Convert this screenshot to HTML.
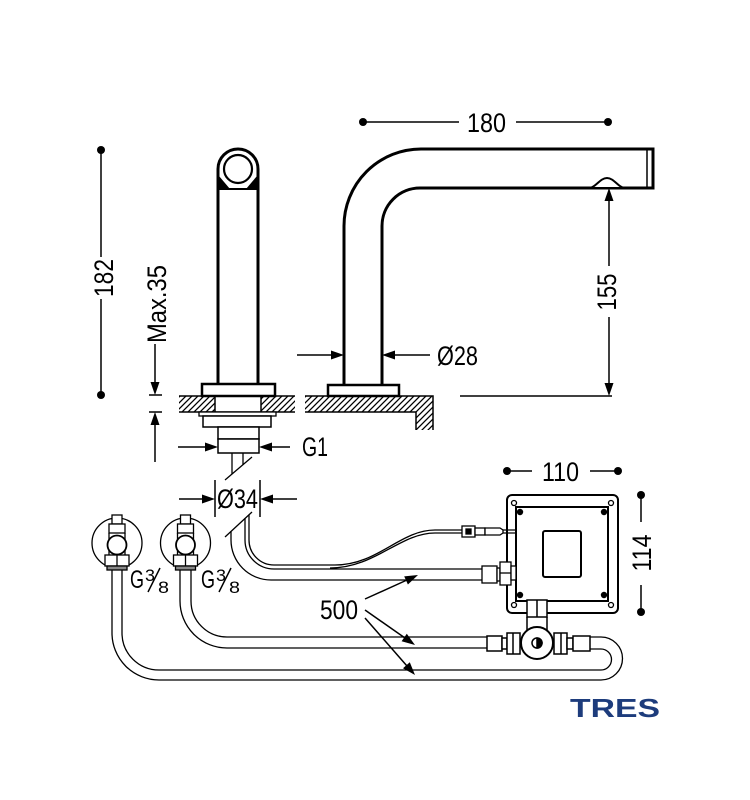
<!DOCTYPE html>
<html><head><meta charset="utf-8">
<style>html,body{margin:0;padding:0;background:#fff;}svg{display:block}</style></head>
<body>
<svg width="750" height="800" viewBox="0 0 750 800" xmlns="http://www.w3.org/2000/svg">
<defs>
<pattern id="h" patternUnits="userSpaceOnUse" width="6" height="6">
<path d="M-1,1 L1,-1 M0,6 L6,0 M5,7 L7,5" stroke="#000" stroke-width="1.3"/>
</pattern>
</defs>
<rect width="750" height="800" fill="#fff"/>

<!-- hatched counter -->
<rect x="179" y="396" width="36" height="16" fill="url(#h)"/>
<rect x="261" y="396" width="34" height="16" fill="url(#h)"/>
<rect x="305" y="396" width="128" height="16" fill="url(#h)"/>
<rect x="416" y="412" width="17" height="18" fill="url(#h)"/>
<g stroke="#000" stroke-width="1.5" fill="none">
<path d="M179,396 H295 M179,412 H295"/>
<path d="M305,396 H433 V430 M305,412 H416 V430"/>
<rect x="215" y="396" width="46" height="16" fill="#fff"/>
</g>

<!-- left spout -->
<g stroke="#000" fill="none">
<path d="M218,385 V169 A20,20 0 0 1 258,169 V385" stroke-width="3"/>
<circle cx="238" cy="169" r="14" stroke-width="2.2"/>
<line x1="218" y1="189" x2="258" y2="189" stroke-width="2"/>
<polygon points="219,176 219,189 230,189" fill="#000" stroke="none"/>
<polygon points="257,176 257,189 246,189" fill="#000" stroke="none"/>
<rect x="202" y="384" width="73" height="12" fill="#fff" stroke-width="2.5"/>
<rect x="199" y="412" width="77" height="4" fill="#fff" stroke-width="1.3"/>
<rect x="203" y="416" width="68" height="11" fill="#fff" stroke-width="1.5"/>
<rect x="218" y="427" width="41" height="12" fill="#fff" stroke-width="1.5"/>
<rect x="218" y="439" width="41" height="14" fill="#fff" stroke-width="1.5"/>
<line x1="232" y1="453" x2="232" y2="474" stroke-width="1.3"/>
<line x1="243" y1="453" x2="243" y2="465" stroke-width="1.3"/>
<line x1="252" y1="457" x2="225" y2="480" stroke-width="1.3"/>
<line x1="252" y1="512" x2="225" y2="537" stroke-width="1.3"/>
</g>

<!-- right spout -->
<g stroke="#000" fill="none" stroke-width="3">
<path d="M344,385 V226 A77,77 0 0 1 421,149 H653 V188 H420 A38,38 0 0 0 382,226 V385"/>
<line x1="647" y1="149" x2="647" y2="188" stroke-width="1.5"/>
<path d="M590,188 C596,187 600,178 607,178 C614,178 618,187 624,188 Z" fill="#fff" stroke-width="2"/>
<rect x="328" y="385" width="71" height="11" fill="#fff" stroke-width="2.5"/>
</g>

<!-- dimension lines -->
<g stroke="#000" stroke-width="1.5" fill="none">
<line x1="101" y1="150" x2="101" y2="257"/>
<line x1="101" y1="299" x2="101" y2="395"/>
<line x1="363" y1="122" x2="459" y2="122"/>
<line x1="516" y1="122" x2="608" y2="122"/>
<line x1="507" y1="471" x2="532" y2="471"/>
<line x1="590" y1="471" x2="618" y2="471"/>
<line x1="641" y1="495" x2="641" y2="522"/>
<line x1="641" y1="585" x2="641" y2="612"/>
<line x1="609" y1="200" x2="609" y2="266"/>
<line x1="609" y1="317" x2="609" y2="384"/>
<line x1="460" y1="396" x2="612" y2="396"/>
<line x1="155" y1="344" x2="155" y2="383"/>
<line x1="149" y1="395" x2="162" y2="395"/>
<line x1="149" y1="412" x2="162" y2="412"/>
<line x1="155" y1="424" x2="155" y2="462"/>
<line x1="297" y1="355" x2="332" y2="355"/>
<line x1="394" y1="355" x2="430" y2="355"/>
<line x1="178" y1="447" x2="206" y2="447"/>
<line x1="271" y1="447" x2="290" y2="447"/>
<line x1="179" y1="499" x2="203" y2="499"/>
<line x1="272" y1="499" x2="297" y2="499"/>
<line x1="215" y1="480" x2="215" y2="517"/>
<line x1="260" y1="480" x2="260" y2="517"/>
<line x1="365" y1="599" x2="407" y2="580"/>
<line x1="365" y1="610" x2="405" y2="638"/>
<line x1="365" y1="618" x2="407" y2="666"/>
</g>
<g fill="#000">
<circle cx="101" cy="150" r="4"/><circle cx="101" cy="395" r="4"/>
<circle cx="363" cy="122" r="4"/><circle cx="608" cy="122" r="4"/>
<circle cx="507" cy="471" r="4"/><circle cx="618" cy="471" r="4"/>
<circle cx="641" cy="495" r="4"/><circle cx="641" cy="612" r="4"/>
<polygon points="344,355 331,350.5 331,359.5"/>
<polygon points="382,355 395,350.5 395,359.5"/>
<polygon points="218,447 205,442.5 205,451.5"/>
<polygon points="259,447 272,442.5 272,451.5"/>
<polygon points="215,499 202,494.5 202,503.5"/>
<polygon points="260,499 273,494.5 273,503.5"/>
<polygon points="609,188 604.5,201 613.5,201"/>
<polygon points="609,396 604.5,383 613.5,383"/>
<polygon points="155,395 150.5,382 159.5,382"/>
<polygon points="155,412 150.5,425 159.5,425"/>
<polygon points="418,575 407.9,584.5 404.2,576.4"/>
<polygon points="415,645 401.6,641.2 406.8,633.8"/>
<polygon points="415,675 403,668.2 409.8,662.2"/>
</g>

<!-- hoses -->
<g stroke="#000" stroke-width="1.3" fill="none">
<path d="M180,570 V601 A47,47 0 0 0 227,648 H487"/>
<path d="M191,570 V601 A36,36 0 0 0 227,637 H487"/>
<path d="M112,570 V633 A47,47 0 0 0 159,680 H601 A21.5,21.5 0 0 0 601,637 H590"/>
<path d="M122,570 V633 A37,37 0 0 0 159,670 H601 A10.5,10.5 0 0 0 601,649 H590"/>
<path d="M231,531 V540 A40,40 0 0 0 271,580 H482"/>
<path d="M245,518 V540 A29,29 0 0 0 274,569 H482"/>
<path d="M330,568 C375,568 400,533 435,533 H462"/>
<path d="M249,515 V540 A25,25 0 0 0 274,565 H335 C378,565 400,530 435,530 H462"/>
</g>

<!-- valves -->
<g stroke="#000" fill="#fff" stroke-width="1.3">
<circle cx="117" cy="543" r="25" fill="none"/>
<rect x="112" y="515" width="10" height="9"/>
<rect x="109" y="524" width="16" height="9"/>
<path d="M109,533 V555 M125,533 V555" fill="none"/>
<circle cx="117" cy="545" r="9.5" stroke-width="1.8"/>
<rect x="105" y="555" width="24" height="11"/>
<line x1="117" y1="555" x2="117" y2="566"/>
<rect x="107" y="566" width="20" height="4" fill="#888"/>

<circle cx="185.5" cy="543" r="25" fill="none"/>
<rect x="180.5" y="515" width="10" height="9"/>
<rect x="177.5" y="524" width="16" height="9"/>
<path d="M177.5,533 V555 M193.5,533 V555" fill="none"/>
<circle cx="185.5" cy="545" r="9.5" stroke-width="1.8"/>
<rect x="173.5" y="555" width="24" height="11"/>
<line x1="185.5" y1="555" x2="185.5" y2="566"/>
<rect x="175.5" y="566" width="20" height="4" fill="#888"/>
</g>

<!-- control box -->
<g stroke="#000" fill="#fff">
<rect x="507" y="495" width="111" height="118" rx="5" stroke-width="2"/>
<rect x="516" y="507" width="92" height="94" stroke-width="2"/>
<rect x="543" y="531" width="38" height="46" rx="2" stroke-width="2"/>
<g stroke-width="1.3">
<circle cx="514" cy="503" r="2.5"/><circle cx="611" cy="503" r="2.5"/>
<circle cx="514" cy="605" r="2.5"/><circle cx="611" cy="605" r="2.5"/>
</g>
<g fill="#000" stroke="none">
<circle cx="520" cy="512" r="3.2"/><circle cx="604" cy="512" r="3.2"/>
<circle cx="520" cy="595" r="3.2"/><circle cx="604" cy="595" r="3.2"/>
</g>
<!-- cable connector -->
<g stroke-width="1.3">
<rect x="462" y="526" width="13" height="11"/>
<rect x="466" y="529" width="5" height="5" fill="#000"/>
<rect x="475" y="528" width="10" height="7"/>
<path d="M485,528 H500 L503,530 V533 L500,535 H485 Z"/>
<path d="M503,530 H516 M503,533 H516" fill="none"/>
</g>
<!-- hose connector to box -->
<g stroke-width="1.3">
<rect x="482" y="566" width="15" height="17"/>
<rect x="497" y="568" width="3" height="13"/>
<rect x="500" y="562" width="11" height="23"/>
<line x1="500" y1="573" x2="511" y2="573"/>
<rect x="511" y="566" width="5" height="14"/>
</g>
<!-- valve block -->
<g stroke-width="1.5">
<path d="M527,617 V630 M547,617 V630" fill="none"/>
<rect x="527" y="600" width="20" height="17"/>
<line x1="537" y1="600" x2="537" y2="617"/>
<rect x="487" y="636" width="15" height="15"/>
<rect x="502" y="638" width="5" height="11"/>
<rect x="507" y="633" width="13" height="21"/>
<line x1="513" y1="633" x2="513" y2="654"/>
<rect x="554" y="633" width="13" height="21"/>
<line x1="561" y1="633" x2="561" y2="654"/>
<rect x="567" y="638" width="6" height="11"/>
<rect x="573" y="636" width="17" height="15"/>
<circle cx="537" cy="643" r="16" stroke-width="2"/>
<circle cx="537" cy="643" r="5" stroke-width="1.5"/>
<path d="M537,638 A5,5 0 0 1 537,648 Z" fill="#000"/>
</g>
</g>

<!-- text -->
<g font-family="Liberation Sans, sans-serif" font-size="27" fill="#000">
<text x="467" y="132" textLength="39" lengthAdjust="spacingAndGlyphs">180</text>
<text x="437" y="365" textLength="41" lengthAdjust="spacingAndGlyphs">Ø28</text>
<text x="302" y="456" textLength="26" lengthAdjust="spacingAndGlyphs">G1</text>
<text x="217" y="508" textLength="41" lengthAdjust="spacingAndGlyphs">Ø34</text>
<text x="542" y="481" textLength="37" lengthAdjust="spacingAndGlyphs">110</text>
<text x="320" y="619" textLength="38" lengthAdjust="spacingAndGlyphs">500</text>
<text transform="translate(113,278) rotate(-90)" x="-19" y="0" textLength="38" lengthAdjust="spacingAndGlyphs">182</text>
<text transform="translate(166,304) rotate(-90)" x="-39" y="0" textLength="78" lengthAdjust="spacingAndGlyphs">Max.35</text>
<text transform="translate(616,292) rotate(-90)" x="-18.5" y="0" textLength="37" lengthAdjust="spacingAndGlyphs">155</text>
<text transform="translate(651,553) rotate(-90)" x="-18.5" y="0" textLength="37" lengthAdjust="spacingAndGlyphs">114</text>

<text x="130" y="588" font-size="25" textLength="14" lengthAdjust="spacingAndGlyphs">G</text>
<text x="145" y="581" font-size="17" textLength="10" lengthAdjust="spacingAndGlyphs">3</text>
<text x="158" y="593" font-size="17" textLength="11" lengthAdjust="spacingAndGlyphs">8</text>
<text x="201" y="588" font-size="25" textLength="14" lengthAdjust="spacingAndGlyphs">G</text>
<text x="216" y="581" font-size="17" textLength="10" lengthAdjust="spacingAndGlyphs">3</text>
<text x="229" y="593" font-size="17" textLength="11" lengthAdjust="spacingAndGlyphs">8</text>
</g>
<g stroke="#000" stroke-width="1.5">
<line x1="160" y1="568" x2="148" y2="592"/>
<line x1="231" y1="568" x2="219" y2="592"/>
</g>

<text x="570" y="717" font-family="Liberation Sans, sans-serif" font-weight="bold" font-size="26" fill="#1d3c7c" textLength="90" lengthAdjust="spacingAndGlyphs">TRES</text>
</svg>
</body></html>
